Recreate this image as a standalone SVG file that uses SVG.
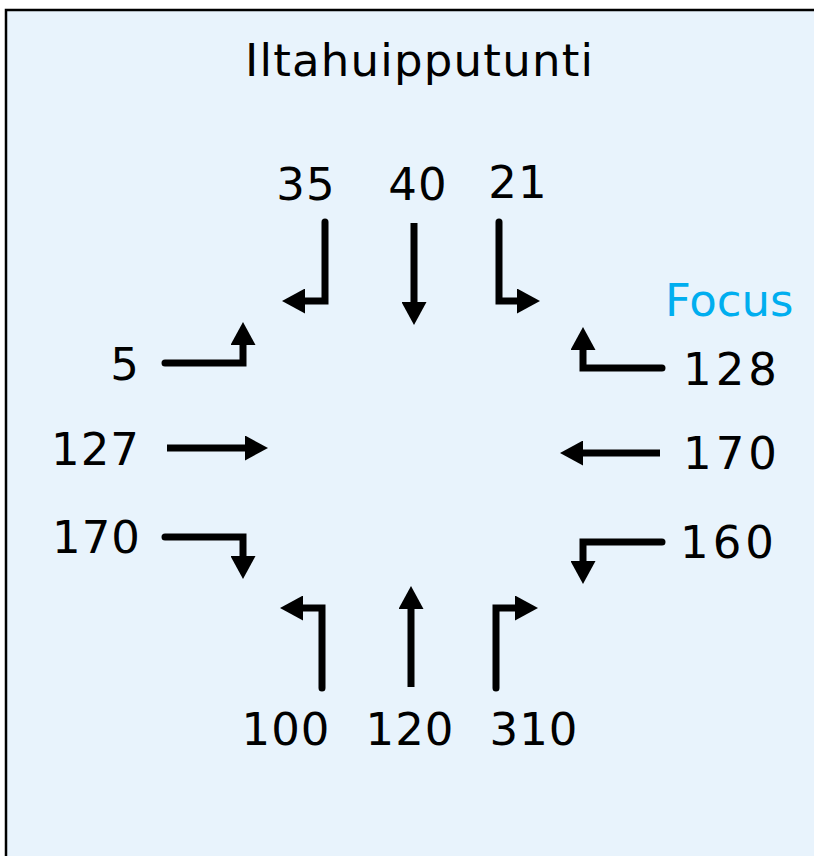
<svg xmlns="http://www.w3.org/2000/svg" width="814" height="856" viewBox="0 0 814 856">
<style>
.num{font-family:"DejaVu Sans",sans-serif;font-size:45px;fill:#000;letter-spacing:1px}
.wide{letter-spacing:4px}
.title{font-family:"DejaVu Sans",sans-serif;font-size:45px;fill:#000}
.focus{font-family:"DejaVu Sans",sans-serif;font-size:45px;fill:#00AEEF}
.arr{fill:none;stroke:#000;stroke-width:7;stroke-linejoin:miter;marker-end:url(#head)}
.turn{stroke-linecap:round}
</style>
<defs>
<marker id="head" markerUnits="userSpaceOnUse" viewBox="0 0 24 25" refX="1" refY="12.5" markerWidth="24" markerHeight="25" orient="auto">
<path d="M0,0 L23,12.5 L0,25 Z" fill="#000"/>
</marker>
</defs>
<rect x="6" y="10" width="830" height="870" fill="#E8F3FC" stroke="#000" stroke-width="2.5"/>
<g id="title"><text class="title" x="245" y="76" textLength="348" lengthAdjust="spacing">Iltahuipputunti</text></g>
<g id="focus"><text class="focus" x="665" y="316">Focus</text></g>
<g id="n-north-left"><text class="num" x="306" y="200" text-anchor="middle">35</text></g>
<g id="n-north-through"><text class="num" x="418" y="200" text-anchor="middle">40</text></g>
<g id="n-north-right"><text class="num" x="518" y="198" text-anchor="middle">21</text></g>
<g id="n-west-left"><text class="num" x="140" y="380" text-anchor="end">5</text></g>
<g id="n-west-through"><text class="num" x="140" y="465" text-anchor="end">127</text></g>
<g id="n-west-right"><text class="num" x="141" y="553" text-anchor="end">170</text></g>
<g id="n-east-right"><text class="num wide" x="683" y="385">128</text></g>
<g id="n-east-through"><text class="num wide" x="683" y="469">170</text></g>
<g id="n-east-left"><text class="num wide" x="680" y="558">160</text></g>
<g id="n-south-left"><text class="num" x="286" y="745" text-anchor="middle">100</text></g>
<g id="n-south-through"><text class="num" x="410" y="745" text-anchor="middle">120</text></g>
<g id="n-south-right"><text class="num" x="534" y="745" text-anchor="middle">310</text></g>
<g id="connectors">
<path class="arr turn" d="M325,222 V301 H304"/>
<path class="arr" d="M414,223 V303"/>
<path class="arr turn" d="M499,222 V301 H518"/>
<path class="arr turn" d="M165,363 H243 V344"/>
<path class="arr" d="M167,448 H246"/>
<path class="arr turn" d="M165,537 H243 V557"/>
<path class="arr turn" d="M662,368 H583 V349"/>
<path class="arr" d="M660,453 H582"/>
<path class="arr turn" d="M662,542 H583 V562"/>
<path class="arr turn" d="M322,688 V608 H302"/>
<path class="arr" d="M411,687 V608"/>
<path class="arr turn" d="M496,688 V608 H516"/>
</g>
</svg>
